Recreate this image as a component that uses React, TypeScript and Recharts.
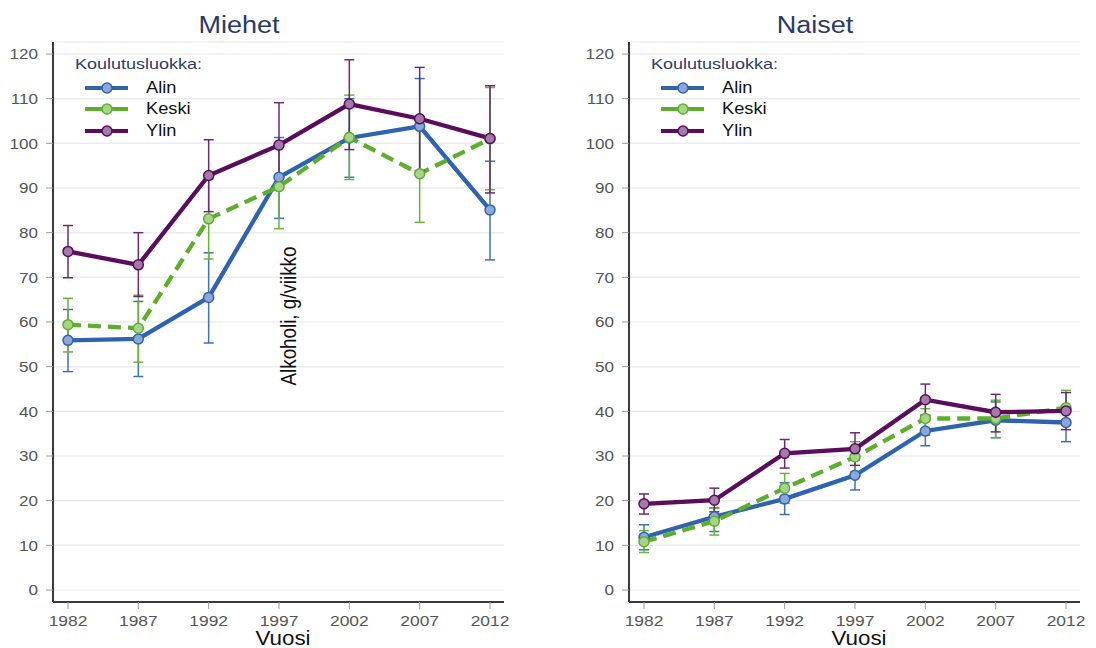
import React from 'react';
import { LineChart, Line, XAxis, YAxis, CartesianGrid, ErrorBar } from 'recharts';

const years = ['1982', '1987', '1992', '1997', '2002', '2007', '2012'];
const yTicks = [0, 10, 20, 30, 40, 50, 60, 70, 80, 90, 100, 110, 120];

// Miehet
const menAlin = [55.9, 56.2, 65.5, 92.4, 101.2, 103.8, 85.1];
const menAlinLow = [48.9, 47.8, 55.3, 83.2, 92.4, 93.0, 73.9];
const menAlinHigh = [62.8, 64.6, 75.5, 101.3, 110.0, 114.5, 96.0];
const menKeski = [59.4, 58.6, 83.1, 90.3, 101.3, 93.2, 101.0];
const menKeskiLow = [53.3, 51.0, 74.1, 80.9, 91.9, 82.3, 89.6];
const menKeskiHigh = [65.3, 66.0, 92.0, 99.7, 110.8, 104.0, 112.5];
const menYlin = [75.8, 72.8, 92.8, 99.6, 108.8, 105.5, 101.1];
const menYlinLow = [69.9, 65.7, 84.7, 90.1, 98.6, 93.9, 88.9];
const menYlinHigh = [81.6, 80.0, 100.8, 109.1, 118.7, 117.0, 112.9];

// Naiset
const womenAlin = [11.8, 16.4, 20.4, 25.7, 35.6, 38.0, 37.5];
const womenAlinLow = [9.0, 13.1, 16.9, 22.4, 32.3, 34.1, 33.2];
const womenAlinHigh = [14.6, 18.4, 24.0, 29.1, 39.1, 42.1, 40.8];
const womenKeski = [10.8, 15.4, 22.8, 29.8, 38.4, 38.4, 40.8];
const womenKeskiLow = [8.4, 12.3, 19.4, 26.5, 34.6, 34.1, 36.9];
const womenKeskiHigh = [13.3, 18.3, 26.1, 33.2, 40.6, 42.5, 44.7];
const womenYlin = [19.3, 20.1, 30.6, 31.6, 42.6, 39.8, 40.1];
const womenYlinLow = [17.0, 17.5, 27.3, 27.9, 39.1, 35.4, 35.9];
const womenYlinHigh = [21.5, 22.8, 33.7, 35.2, 46.1, 43.8, 44.2];

const series = [
  { key: 'alin', name: 'Alin', color: '#2f63ae', fill: '#8ca7d8', err: '#3f70ba', dash: undefined },
  { key: 'keski', name: 'Keski', color: '#5eae2e', fill: '#a7d48a', err: '#68b33c', dash: '13 7' },
  { key: 'ylin', name: 'Ylin', color: '#5a0c5d', fill: '#a27ba6', err: '#6b2b6e', dash: undefined },
];

const FONT = '"Liberation Sans", Arial, sans-serif';
const NAVY = '#2b3a67';

const buildRows = (
  alin: number[], alinLo: number[], alinHi: number[],
  keski: number[], keskiLo: number[], keskiHi: number[],
  ylin: number[], ylinLo: number[], ylinHi: number[],
) =>
  years.map((year, i) => ({
    year,
    alin: alin[i],
    alinErr: [alin[i] - alinLo[i], alinHi[i] - alin[i]],
    keski: keski[i],
    keskiErr: [keski[i] - keskiLo[i], keskiHi[i] - keski[i]],
    ylin: ylin[i],
    ylinErr: [ylin[i] - ylinLo[i], ylinHi[i] - ylin[i]],
  }));

const menRows = buildRows(menAlin, menAlinLow, menAlinHigh, menKeski, menKeskiLow, menKeskiHigh, menYlin, menYlinLow, menYlinHigh);
const womenRows = buildRows(womenAlin, womenAlinLow, womenAlinHigh, womenKeski, womenKeskiLow, womenKeskiHigh, womenYlin, womenYlinLow, womenYlinHigh);

const XTick = ({ x, y, payload }: any) => (
  <g transform={`translate(${x},${y})`}>
    <text transform="scale(1.16,1)" textAnchor="middle" dy="0.71em" fontSize={15} fill="#555" fontFamily={FONT}>
      {payload.value}
    </text>
  </g>
);

const YTick = ({ x, y, payload }: any) => (
  <g transform={`translate(${x},${y})`}>
    <text transform="scale(1.18,1)" textAnchor="end" dy="0.36em" fontSize={14.5} fill="#555" fontFamily={FONT}>
      {payload.value}
    </text>
  </g>
);

const LegendBox = () => (
  <div style={{ position: 'absolute', left: 0, top: 0 }}>
    <div style={{ position: 'absolute', left: 75, top: 56, fontSize: 15, lineHeight: '15px', color: NAVY, whiteSpace: 'nowrap', transform: 'scaleX(1.2)', transformOrigin: 'left' }}>
      Koulutusluokka:
    </div>
    {series.map((s, i) => (
      <div key={s.key} style={{ position: 'absolute', left: 85, top: 87.5 + i * 21.7 - 8, height: 16, display: 'flex', alignItems: 'center' }}>
        <svg width={44} height={16}>
          <line x1={0} y1={8} x2={43} y2={8} stroke={s.color} strokeWidth={4} />
          <circle cx={22} cy={8} r={5} fill={s.fill} stroke={s.color} strokeWidth={1.5} />
        </svg>
        <span style={{ position: 'absolute', left: 61, top: 0, fontSize: 16, lineHeight: '16px', color: '#111', transform: 'scaleX(1.14)', transformOrigin: 'left', whiteSpace: 'nowrap' }}>
          {s.name}
        </span>
      </div>
    ))}
  </div>
);

const Panel = ({ title, rows, left, yLabel }: { title: string; rows: any[]; left: number; yLabel?: boolean }) => (
  <div style={{ position: 'absolute', left, top: 0, width: 520, height: 648 }}>
    <LineChart width={520} height={648} data={rows} margin={{ top: 42, right: 16, bottom: 16, left: 8 }}>
      <CartesianGrid vertical={false} stroke="#ececec" strokeWidth={1.5} />
      <XAxis
        dataKey="year"
        padding={{ left: 15, right: 14 }}
        height={30}
        tickSize={7}
        tickMargin={6}
        tick={<XTick />}
        axisLine={{ stroke: '#3a3a3a', strokeWidth: 2 }}
        tickLine={{ stroke: '#999' }}
      />
      <YAxis
        domain={[0, 120]}
        ticks={yTicks}
        width={45}
        padding={{ top: 12, bottom: 12 }}
        tickSize={7}
        tickMargin={8}
        tick={<YTick />}
        axisLine={{ stroke: '#3a3a3a', strokeWidth: 2 }}
        tickLine={{ stroke: '#999' }}
        interval={0}
      />
      {series.map((s) => (
        <Line
          key={s.key}
          dataKey={s.key}
          name={s.name}
          stroke={s.color}
          strokeWidth={4.3}
          strokeDasharray={s.dash}
          dot={{ r: 5, fill: s.fill, stroke: s.color, strokeWidth: 1.5, strokeDasharray: 'none' }}
          isAnimationActive={false}
        >
          <ErrorBar dataKey={`${s.key}Err`} width={5} stroke={s.err} strokeWidth={1.5} strokeDasharray="none" direction="y" />
        </Line>
      ))}
    </LineChart>
    <div style={{ position: 'absolute', left: 239, top: 14, transform: 'translateX(-50%) scaleX(1.15)', fontSize: 23.5, lineHeight: '22px', color: NAVY, whiteSpace: 'nowrap' }}>
      {title}
    </div>
    <div style={{ position: 'absolute', left: 283, top: 630, transform: 'translateX(-50%) scaleX(1.12)', fontSize: 20, lineHeight: '16px', color: '#111', whiteSpace: 'nowrap' }}>
      Vuosi
    </div>
    {yLabel && (
      <div style={{ position: 'absolute', left: 289, top: 316, transform: 'translate(-50%,-50%) rotate(-90deg) scale(1,1.15)', fontSize: 18.8, lineHeight: '19px', color: '#111', whiteSpace: 'nowrap' }}>
        Alkoholi, g/viikko
      </div>
    )}
    <LegendBox />
  </div>
);

const App: React.FC = () => (
  <div style={{ position: 'absolute', left: 0, top: 0, width: 1096, height: 648, background: '#fff', fontFamily: FONT, overflow: 'hidden' }}>
    <Panel title="Miehet" rows={menRows} left={0} yLabel />
    <Panel title="Naiset" rows={womenRows} left={576} />
  </div>
);

export default App;
